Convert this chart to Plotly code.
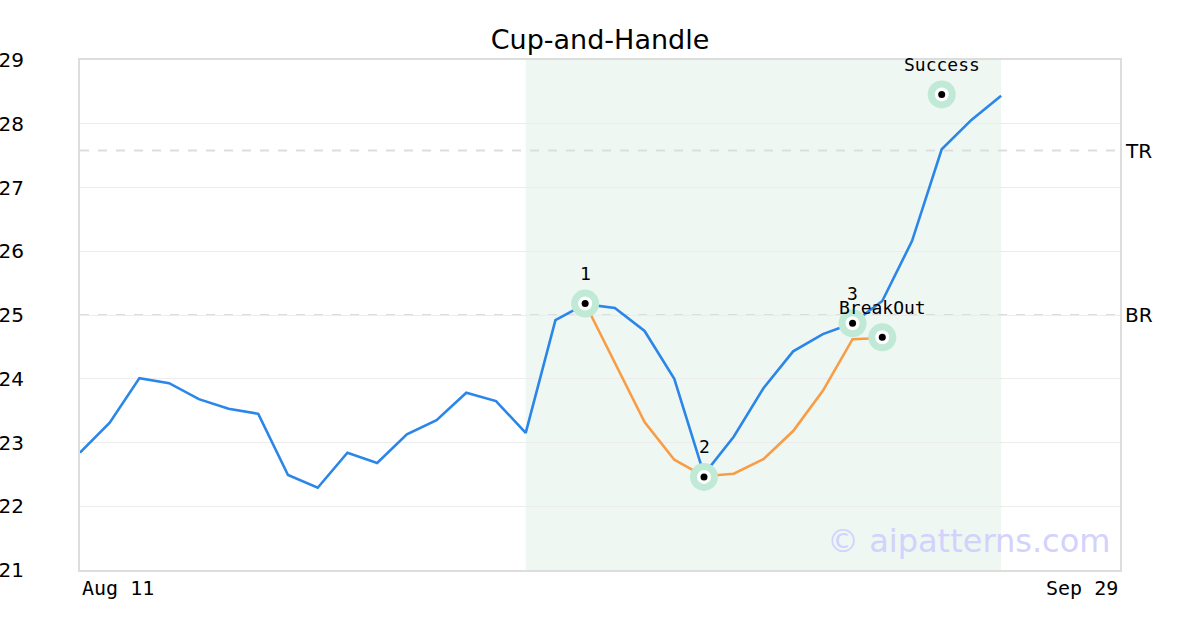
import plotly.graph_objects as go

# ---- data ----
price_x = list(range(32))
price_y = [22.84, 23.31, 24.01, 23.93, 23.68, 23.53, 23.45, 22.49, 22.29, 22.84,
           22.68, 23.13, 23.35, 23.78, 23.65, 23.15, 24.92, 25.17, 25.11, 24.75,
           24.00, 22.50, 23.09, 23.85, 24.43, 24.70, 24.87, 25.22, 26.16, 27.60,
           28.06, 28.44]
cup_x = list(range(17, 28))
cup_y = [25.18, 24.25, 23.32, 22.73, 22.47, 22.51, 22.74, 23.18, 23.81, 24.62, 24.64]
point_x = [17, 21, 26, 27, 29]
point_y = [25.18, 22.46, 24.87, 24.65, 28.46]
point_labels = ["1", "2", "3", "BreakOut", "Success"]
level_names = ["TR", "BR"]
level_values = [27.58, 25.0]
shade_range = [15, 31]
x_tick_pos = [0, 35]
x_tick_labels = ["Aug 11", "Sep 29"]
y_ticks = [21, 22, 23, 24, 25, 26, 27, 28, 29]

fig = go.Figure()

fig.add_trace(go.Scatter(x=price_x, y=price_y, mode="lines",
                         line=dict(color="#2a86e9", width=2.6), hoverinfo="skip"))
fig.add_trace(go.Scatter(x=cup_x, y=cup_y, mode="lines",
                         line=dict(color="#f89c45", width=2.6), hoverinfo="skip"))
for size, col in [(28, "#c0ead6"), (14, "#ffffff"), (7, "#000000")]:
    fig.add_trace(go.Scatter(x=point_x, y=point_y, mode="markers",
                             marker=dict(size=size, color=col, line=dict(width=0)),
                             hoverinfo="skip"))

shapes = [dict(type="rect", xref="x", yref="paper", x0=shade_range[0], x1=shade_range[1],
               y0=0, y1=1, fillcolor="#eff7f3", line=dict(width=0), layer="below")]
for v in level_values:
    shapes.append(dict(type="line", xref="paper", yref="y", x0=0, x1=1, y0=v, y1=v,
                       line=dict(color="#dddddd", width=2, dash="dash"), layer="below"))

annotations = []
for name, v in zip(level_names, level_values):
    annotations.append(dict(x=1, xref="paper", y=v, yref="y", text=name, showarrow=False,
                            xanchor="left", xshift=3,
                            font=dict(family="DejaVu Sans", size=20, color="#000")))
for px, py, lab in zip(point_x, point_y, point_labels):
    annotations.append(dict(x=px, y=py, xref="x", yref="y", text=lab, showarrow=False,
                            yshift=30, font=dict(family="DejaVu Sans Mono", size=18, color="#000")))
for tx, tl, anc in zip(x_tick_pos, x_tick_labels, ["left", "right"]):
    annotations.append(dict(x=tx, xref="x", y=0, yref="paper", text=tl, showarrow=False,
                            xanchor=anc, yanchor="top", yshift=-4,
                            font=dict(family="DejaVu Sans Mono", size=20, color="#000")))
annotations.append(dict(x=1, xref="paper", y=0, yref="paper", text="© aipatterns.com",
                        showarrow=False, xanchor="right", yanchor="bottom", xshift=-8, yshift=8,
                        font=dict(family="DejaVu Sans", size=32, color="#d2d2fd")))

fig.update_layout(
    width=1200, height=630,
    margin=dict(l=80, r=80, t=60, b=60, autoexpand=False),
    paper_bgcolor="white", plot_bgcolor="white",
    showlegend=False,
    title=dict(text="Cup-and-Handle", x=0.5, xanchor="center",
               y=1 - 40 / 630, yanchor="middle",
               font=dict(family="DejaVu Sans", size=27, color="#000")),
    shapes=shapes, annotations=annotations,
    xaxis=dict(range=[0, 35], showgrid=False, zeroline=False, showticklabels=False,
               showline=True, mirror=True, linecolor="#dddddd", linewidth=2, ticks="",
               automargin=False),
    yaxis=dict(range=[21, 29], tickvals=y_ticks, showgrid=True, gridcolor="#ececec",
               gridwidth=1, zeroline=False, showline=True, mirror=True,
               linecolor="#dddddd", linewidth=2, ticks="", ticklabelstandoff=50,
               automargin=False,
               tickfont=dict(family="DejaVu Sans", size=20, color="#000")),
)

fig.write_html("out.html", config={"displayModeBar": False},
               post_script="document.body.style.margin='0';")
